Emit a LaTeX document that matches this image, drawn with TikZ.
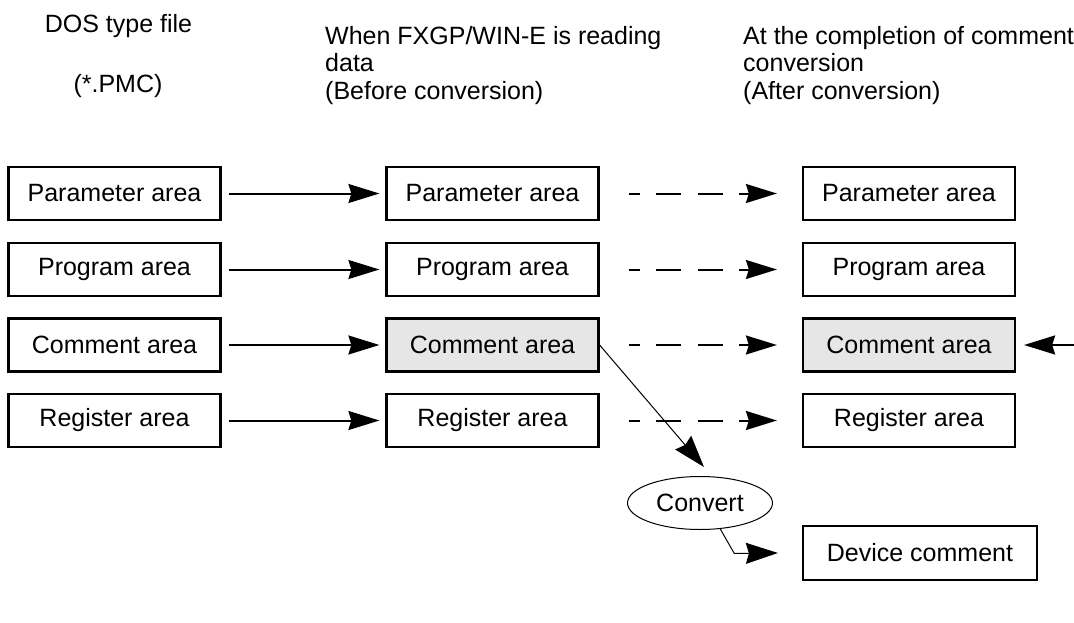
\documentclass[tikz,border=0pt]{standalone}
\usepackage{fontspec}
\setmainfont{Liberation Sans}
\usetikzlibrary{arrows.meta,shapes.geometric}
\definecolor{grisarea}{RGB}{230,230,230}

\begin{document}
\begin{tikzpicture}[x=1pt,y=-1pt,
  every node/.style={font=\fontsize{25}{27.5}\selectfont, inner sep=0pt},
  area/.style={draw=black, line width=2.2pt, minimum width=212pt, minimum height=53pt},
  sombra/.style={area, fill=grisarea},
  flecha/.style={line width=2pt, -{Stealth[length=31pt,width=19pt,inset=3pt]}},
  trazos/.style={flecha, dash pattern=on 25pt off 16.5pt, dash phase=14pt},
  fina/.style={line width=1pt, -{Stealth[length=32pt,width=21pt,inset=3pt]}}]
  \useasboundingbox (0,0) rectangle (1074,623);

  % Títulos
  \node (t1) at (118.5,26) {DOS type file};
  \node (t1b) at (118,86) {(*.PMC)};
  \node[anchor=north west, align=left] (t2) at (325,26) {When FXGP/WIN-E is reading\\data\\(Before conversion)};
  \node[anchor=north west, align=left] (t3) at (743,26) {At the completion of comment\\conversion\\(After conversion)};

  % Áreas
  \node[area] (p1) at (114.5,193.5) {Parameter area};
  \node[area] (g1) at (114.5,269.5) {Program area};
  \node[area] (c1) at (114.5,345) {Comment area};
  \node[area] (r1) at (114.5,420.5) {Register area};

  \node[area] (p2) at (492.5,193.5) {Parameter area};
  \node[area] (g2) at (492.5,269.5) {Program area};
  \node[sombra] (c2) at (492.5,345) {Comment area};
  \node[area] (r2) at (492.5,420.5) {Register area};

  \node[area] (p3) at (909,193.5) {Parameter area};
  \node[area] (g3) at (909,269.5) {Program area};
  \node[sombra] (c3) at (909,345) {Comment area};
  \node[area] (r3) at (909,420.5) {Register area};

  \node[ellipse, draw, line width=1pt, minimum width=145pt, minimum height=53pt] (conv) at (700,503) {Convert};
  \node[area, minimum width=234pt, minimum height=54pt] (dev) at (920,553) {Device comment};
  \coordinate (ext) at (1074,345);

  % Flechas
  \foreach \from/\to in {p1/p2, g1/g2, c1/c2, r1/r2}
    \draw[flecha] ([xshift=7pt]\from.east) -- ([xshift=-6pt]\to.west);
  \foreach \from/\to in {p2/p3, g2/g3, c2/c3, r2/r3}
    \draw[trazos] ([xshift=29pt]\from.east) -- ([xshift=-25pt]\to.west);
  \draw[flecha] (ext) -- ([xshift=8pt]c3.east);

  % Conversión
  \draw[fina] (c2.east) -- ([xshift=4pt,yshift=9pt]conv.north);
  \draw[fina] (conv.-52) -- ++(14,24.5) -- ([xshift=-24pt]dev.west);
\end{tikzpicture}
\end{document}
